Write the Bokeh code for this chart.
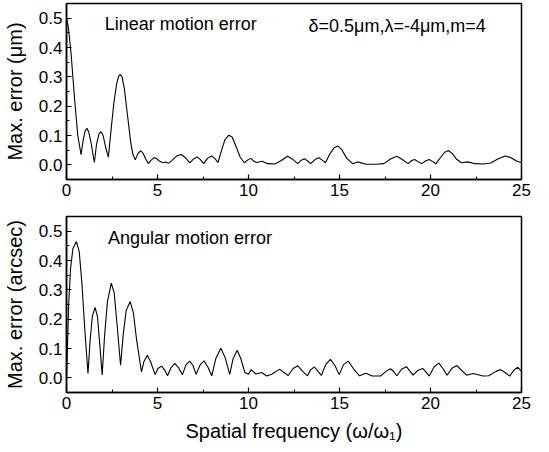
from bokeh.plotting import figure
from bokeh.layouts import column
from bokeh.models import FixedTicker, Range1d, Label, NumeralTickFormatter
from bokeh.embed import file_html
from bokeh.resources import INLINE

# Linear motion error (top panel)
lin_x = [0.00, 0.10, 0.25, 0.45, 0.62, 0.80, 0.92, 1.02, 1.12, 1.22, 1.35, 1.53, 1.65, 1.78, 1.90,
         2.02, 2.15, 2.30, 2.45, 2.60, 2.75, 2.87, 2.96, 3.05, 3.18, 3.35, 3.52, 3.65, 3.78, 3.92,
         4.08, 4.22, 4.35, 4.50, 4.65, 4.80, 4.92, 5.10, 5.30, 5.45, 5.60, 5.80, 6.05, 6.30, 6.50,
         6.78, 6.98, 7.19, 7.36, 7.54, 7.75, 7.97, 8.15, 8.32, 8.50, 8.70, 8.92, 9.10, 9.30, 9.55,
         9.77, 9.95, 10.13, 10.30, 10.45, 10.75, 11.05, 11.46, 11.80, 12.15, 12.45, 12.71, 12.90,
         13.07, 13.25, 13.42, 13.65, 13.87, 14.05, 14.23, 14.45, 14.70, 14.92, 15.12, 15.40, 15.72,
         16.00, 16.46, 17.00, 17.44, 17.80, 18.15, 18.45, 18.77, 18.95, 19.13, 19.32, 19.52, 19.72,
         19.93, 20.12, 20.30, 20.55, 20.78, 20.98, 21.20, 21.45, 21.70, 22.05, 22.45, 22.90, 23.30,
         23.70, 24.10, 24.40, 24.75, 25.00]
lin_y = [0.500, 0.470, 0.380, 0.220, 0.100, 0.035, 0.085, 0.115, 0.125, 0.112, 0.075, 0.008, 0.070, 0.105, 0.113,
         0.098, 0.060, 0.026, 0.120, 0.210, 0.275, 0.302, 0.308, 0.300, 0.260, 0.170, 0.080, 0.035, 0.017, 0.038,
         0.048, 0.038, 0.020, 0.005, 0.016, 0.024, 0.023, 0.013, 0.007, 0.010, 0.005, 0.015, 0.030, 0.035, 0.026,
         0.007, 0.020, 0.027, 0.018, 0.004, 0.022, 0.030, 0.022, 0.008, 0.045, 0.085, 0.101, 0.095, 0.065, 0.025,
         0.007, 0.016, 0.022, 0.012, 0.008, 0.012, 0.004, 0.003, 0.015, 0.029, 0.018, 0.004, 0.016,
         0.021, 0.013, 0.004, 0.018, 0.024, 0.016, 0.007, 0.035, 0.058, 0.064, 0.052, 0.022, 0.004,
         0.010, 0.002, 0.002, 0.004, 0.020, 0.029, 0.018, 0.004, 0.014, 0.018, 0.011, 0.004, 0.013,
         0.018, 0.011, 0.004, 0.025, 0.043, 0.049, 0.038, 0.018, 0.007, 0.010, 0.004, 0.003, 0.006,
         0.020, 0.030, 0.025, 0.012, 0.007]

# Angular motion error (bottom panel)
ang_x = [0.00, 0.05, 0.12, 0.22, 0.35, 0.54, 0.70, 0.85, 1.00, 1.18, 1.30, 1.42, 1.57, 1.70, 1.82,
         1.96, 2.10, 2.25, 2.46, 2.62, 2.78, 2.97, 3.12, 3.28, 3.50, 3.68, 3.85, 4.12, 4.25, 4.44,
         4.62, 4.87, 5.02, 5.22, 5.40, 5.55, 5.75, 5.95, 6.15, 6.37, 6.57, 6.77, 6.95, 7.12, 7.35,
         7.56, 7.78, 7.98, 8.20, 8.48, 8.72, 8.97, 9.15, 9.38, 9.58, 9.80, 10.00, 10.15, 10.40,
         10.72, 11.00, 11.28, 11.50, 11.73, 11.95, 12.18, 12.45, 12.71, 12.98, 13.24, 13.42, 13.62,
         13.82, 14.00, 14.25, 14.50, 14.75, 14.98, 15.22, 15.48, 15.78, 16.10, 16.45, 16.80, 17.25,
         17.55, 17.80, 18.00, 18.15, 18.42, 18.68, 18.88, 19.04, 19.30, 19.57, 19.78, 19.93, 20.20,
         20.46, 20.70, 20.91, 21.18, 21.45, 21.72, 21.98, 22.35, 22.88, 23.20, 23.60, 23.85, 24.10,
         24.35, 24.58, 24.80, 25.00]
ang_y = [0.000, 0.100, 0.250, 0.370, 0.440, 0.465, 0.430, 0.320, 0.170, 0.015, 0.130, 0.210, 0.240, 0.210, 0.120,
         0.010, 0.150, 0.260, 0.323, 0.290, 0.180, 0.043, 0.150, 0.230, 0.260, 0.220, 0.130, 0.020, 0.055, 0.077,
         0.055, 0.011, 0.032, 0.040, 0.026, 0.007, 0.035, 0.049, 0.035, 0.011, 0.045, 0.057, 0.042, 0.012, 0.045,
         0.058, 0.035, 0.007, 0.065, 0.101, 0.068, 0.012, 0.065, 0.094, 0.065, 0.018, 0.012, 0.028, 0.013,
         0.018, 0.006, 0.012, 0.022, 0.029, 0.018, 0.008, 0.032, 0.041, 0.022, 0.007, 0.028, 0.037,
         0.022, 0.008, 0.046, 0.063, 0.042, 0.011, 0.045, 0.057, 0.030, 0.007, 0.016, 0.006, 0.006,
         0.022, 0.031, 0.020, 0.007, 0.030, 0.038, 0.022, 0.009, 0.025, 0.032, 0.018, 0.006, 0.038,
         0.050, 0.030, 0.009, 0.033, 0.042, 0.025, 0.009, 0.015, 0.006, 0.007, 0.022, 0.028, 0.018,
         0.006, 0.026, 0.036, 0.022]

x_ticks = [0, 5, 10, 15, 20, 25]
x_minor = [2.5, 7.5, 12.5, 17.5, 22.5]
y_ticks = [0.0, 0.1, 0.2, 0.3, 0.4, 0.5]
y_minor = [-0.05, 0.05, 0.15, 0.25, 0.35, 0.45, 0.55]

FONT = "Liberation Sans"


def make_fig(min_top, frame_h, min_bottom, ylabel, xlabel):
    p = figure(frame_width=455, frame_height=frame_h, min_border_left=66, min_border_right=14,
               min_border_top=min_top, min_border_bottom=min_bottom,
               output_backend="svg", toolbar_location=None,
               x_range=Range1d(0, 25), y_range=Range1d(-0.05, 0.55))
    p.grid.visible = False
    p.outline_line_color = "black"
    p.outline_line_width = 1.5
    p.background_fill_color = "white"
    p.border_fill_color = "white"
    for ax in (p.xaxis[0], p.yaxis[0]):
        ax.axis_line_width = 1.5
        ax.axis_line_color = "black"
        ax.major_tick_in = 5
        ax.major_tick_out = 0
        ax.minor_tick_in = 3
        ax.minor_tick_out = 0
        ax.major_tick_line_width = 1.2
        ax.major_label_text_font = FONT
        ax.major_label_text_font_size = "17px"
        ax.major_label_text_color = "black"
        ax.axis_label_text_font = FONT
        ax.axis_label_text_font_size = "20px"
        ax.axis_label_text_font_style = "normal"
        ax.axis_label_text_color = "black"
    p.xaxis.ticker = FixedTicker(ticks=x_ticks, minor_ticks=x_minor)
    p.yaxis.ticker = FixedTicker(ticks=y_ticks, minor_ticks=y_minor)
    p.yaxis.formatter = NumeralTickFormatter(format="0.0")
    p.xaxis.major_label_standoff = 4
    p.yaxis.major_label_standoff = 4
    p.yaxis.axis_label = ylabel
    p.yaxis.axis_label_standoff = 10
    if xlabel:
        p.xaxis.axis_label = xlabel
        p.xaxis.axis_label_standoff = 8
    return p


p1 = make_fig(3, 176, 30, "Max. error (μm)", None)
p1.line(lin_x, lin_y, line_color="black", line_width=1.1)
p1.add_layout(Label(x=2.1, y=0.48, text="Linear motion error", text_font=FONT,
                    text_font_size="18px", text_baseline="middle", text_color="black"))
p1.add_layout(Label(x=13.3, y=0.475, text="δ=0.5μm,λ=-4μm,m=4", text_font=FONT,
                    text_font_size="18px", text_baseline="middle", text_color="black"))

p2 = make_fig(7, 176, 46, "Max. error (arcsec)", "Spatial frequency (ω/ω₁)")
p2.line(ang_x, ang_y, line_color="black", line_width=1.1)
p2.add_layout(Label(x=2.28, y=0.476, text="Angular motion error", text_font=FONT,
                    text_font_size="18px", text_baseline="middle", text_color="black"))

layout = column(p1, p2, spacing=0)
open("out.html", "w").write(file_html(layout, INLINE))
